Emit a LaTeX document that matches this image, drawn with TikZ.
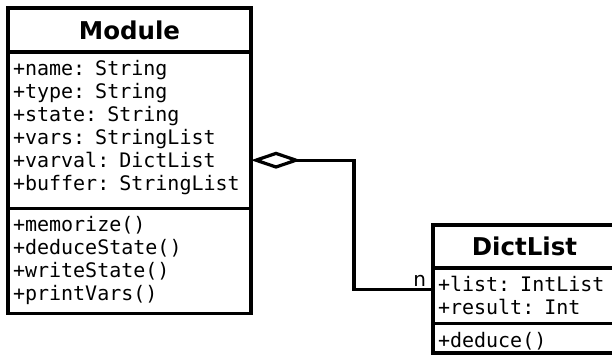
\documentclass[tikz,border=0pt]{standalone}
\usepackage{fontspec}
\newfontfamily\umlsans{DejaVu Sans}
\newfontfamily\umlmono{DejaVu Sans Mono}
\usetikzlibrary{positioning,arrows.meta}

\begin{document}
    \begin{tikzpicture}[
        x = 1pt,
        y = -1pt,
        line width = 3.2pt,
        box/.style = {draw, outer sep = 0pt, inner sep = 0pt},
        classname/.style = {box, anchor = north west, minimum height = 44pt,
            font = \umlsans\bfseries\fontsize{24.5}{28}\selectfont},
        members/.style = {box, inner xsep = 5pt, align = left,
            font = \umlmono\fontsize{20}{23}\selectfont},
        aggr/.style = {{Diamond[open, length = 50pt, width = 17pt]}-}
    ]
        \useasboundingbox[fill = white] (0, 0) rectangle (612, 356);

        \begin{scope}[shift={(8, 8)}]
            \node[classname, minimum width = 243pt] (module) {Module};
            \node[members, below = 0pt of module, text width = 233pt,
                text height = 23.8pt, text depth = 132.7pt] (moduleattr)
                {+name: String\\+type: String\\+state: String\\+vars: StringList\\+varval: DictList\\+buffer: StringList};
            \node[members, below = 0pt of moduleattr, text width = 233pt,
                text height = 22.5pt, text depth = 82.5pt] (moduleops)
                {+memorize()\\+deduceState()\\+writeState()\\+printVars()};
        \end{scope}

        \begin{scope}[shift={(433, 225)}]
            \node[classname, minimum width = 183pt, minimum height = 43pt] (dictlist) {DictList};
            \node[members, below = 0pt of dictlist, text width = 173pt,
                text height = 23.6pt, text depth = 31.9pt] (dictattr)
                {+list: IntList\\+result: Int};
            \node[members, below = 0pt of dictattr, text width = 173pt,
                text height = 23.5pt, text depth = 6pt] (dictops)
                {+deduce()};
        \end{scope}

        \draw[aggr] ([yshift = -108.2pt] moduleattr.north east) -- ++(103, 0)
            |- ([yshift = -21.3pt] dictattr.north west)
            node[anchor = base east, xshift = -2pt, yshift = 3pt,
                font = \umlsans\fontsize{20}{23}\selectfont] (mult) {n};
    \end{tikzpicture}
\end{document}
